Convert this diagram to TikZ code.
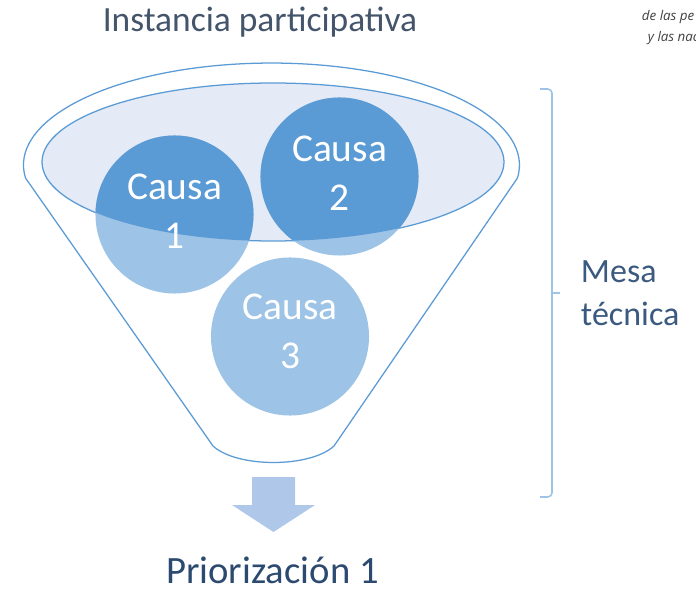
\documentclass[tikz,border=0pt]{standalone}
\usepackage{fontspec}
\setmainfont{Carlito}
\newfontfamily\notefont{Open Sans}
\usetikzlibrary{positioning}
\definecolor{causadark}{HTML}{5B9BD5}
\definecolor{causalight}{HTML}{9DC3E6}
\definecolor{mouthfill}{HTML}{E4EBF6}
\definecolor{arrowblue}{HTML}{AFC7E8}
\definecolor{titlegray}{HTML}{44546A}
\definecolor{prioblue}{HTML}{2C4A70}
\definecolor{mesablue}{HTML}{3B5A80}

\begin{document}
\begin{tikzpicture}[x=0.025cm,y=-0.025cm,
    funnel/.style={draw=causadark,line width=0.9pt},
    causa/.style={circle,inner sep=0pt,minimum size=3.95cm},
    causa text/.style={text=white,align=center,font=\fontsize{28}{35}\selectfont}]
  \useasboundingbox (0,0) rectangle (696,589);

  % funnel body and mouth:
  \filldraw[funnel,fill=white] (213,446) -- (25.5,178)
    arc[start angle=172.7,end angle=367.3,x radius=248,y radius=102]
    -- (334,446) .. controls (310,468) and (237,468) .. (213,446) -- cycle;
  \filldraw[funnel,fill=mouthfill] (273,162) ellipse [x radius=231,y radius=79];

  % causes:
  \node[causa,fill=causalight] (causa1) at (174.5,214.5) {};
  \node[causa,fill=causalight] (causa2) at (339.5,176.5) {};
  \node[causa,fill=causalight] (causa3) at (290,336.5) {};
  \begin{scope}
    \clip (273,162) ellipse [x radius=231,y radius=79];
    \node[causa,fill=causadark] at (causa1) {};
    \node[causa,fill=causadark] at (causa2) {};
  \end{scope}
  \node[causa text,anchor=base] (txt1) at ([yshift=-0.85cm]causa1.center) {Causa\\1};
  \node[causa text,anchor=base] (txt2) at ([yshift=-0.85cm]causa2.center) {Causa\\2};
  \node[causa text,anchor=base] (txt3) at ([yshift=-0.8cm]causa3.center) {Causa\\3};

  % output arrow:
  \fill[arrowblue] (252,477) -- (295,477) -- (295,505) -- (315,505)
    -- (273.5,532) -- (232,505) -- (252,505) -- cycle;

  % brace:
  \draw[causalight,line width=1.1pt,rounded corners=3pt] (540,89) -| (552,497) -- (540,497);
  \coordinate (tip) at (560,293);
  \draw[causalight,line width=1.1pt] (552,293) -- (tip);

  % labels:
  \node[anchor=base,text=titlegray,font=\fontsize{25.2}{30}\selectfont] (title) at (260,32) {Instancia participativa};
  \node[anchor=base,inner sep=0pt,text=prioblue,font=\fontsize{27.5}{33}\selectfont] (prio) at (272.5,583) {Priorización 1};
  \node[anchor=west,align=left,text=mesablue,font=\fontsize{24.2}{30.6}\selectfont] (mesa) at ([xshift=0.4cm]tip) {Mesa\\técnica};
  \node[anchor=base west,text=black!75,font=\notefont\itshape\fontsize{9.5}{12}\selectfont] (frag1) at (637,21) {de las pe};
  \node[anchor=base west,text=black!75,font=\notefont\itshape\fontsize{9.5}{12}\selectfont] (frag2) at (643,42) {y las nac};
\end{tikzpicture}
\end{document}
